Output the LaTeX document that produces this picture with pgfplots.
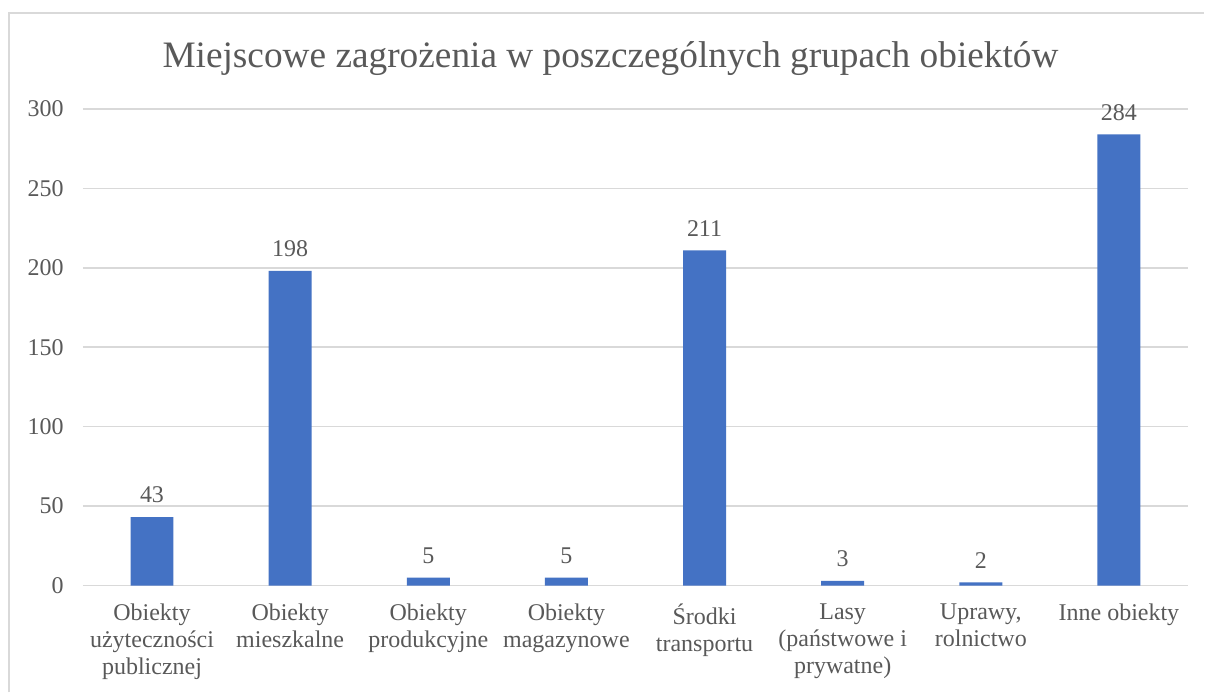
\documentclass[border=0pt]{standalone}
\usepackage{pgfplots}
\pgfplotsset{compat=1.18}
\usepackage{fontspec}
\setmainfont{Liberation Serif}
\definecolor{barblue}{HTML}{4472C4}
\definecolor{gridgray}{HTML}{D9D9D9}
\definecolor{txtgray}{HTML}{595959}
\definecolor{framegray}{HTML}{D9D9D9}
\begin{document}
\begin{tikzpicture}[x=0.75pt,y=0.75pt]
\fill[white] (0,0) rectangle (1205,693);
\draw[framegray, line width=1.5pt] (9,0) -- (9,680) -- (1205,680);
\node[txtgray, font=\fontsize{28}{32}\selectfont] at (611,693-59) {Miejscowe zagrożenia w poszczególnych grupach obiektów};
\begin{axis}[
  at={(62.25pt,80.25pt)}, anchor=south west,
  scale only axis,
  width=829.5pt, height=357.75pt,
  xmin=-0.5, xmax=7.5, ymin=0, ymax=300,
  axis line style={draw=none},
  ytick={0,50,100,150,200,250,300},
  xtick={0,1,2,3,4,5,6,7},
  xticklabels={{Obiekty\\użyteczności\\publicznej},{Obiekty\\mieszkalne},{Obiekty\\produkcyjne},{Obiekty\\magazynowe},{Środki\\transportu},{Lasy\\(państwowe i\\prywatne)},{Uprawy,\\rolnictwo},{Inne obiekty}},
  xticklabel style={align=center, font=\fontsize{18}{20.25}\selectfont, text=txtgray, anchor=north, yshift=-10pt},
  yticklabel style={font=\fontsize{18}{20}\selectfont, text=txtgray, xshift=-11pt},
  /pgf/number format/assume math mode=true,
  ymajorgrids, grid style={gridgray, line width=1.1pt},
  major tick length=0pt,
  tick style={draw=none},
]
\addplot[ybar, bar width=32.25pt, fill=barblue, draw=none,
  nodes near coords, every node near coord/.append style={font=\fontsize{18}{20}\selectfont, text=txtgray, yshift=7pt}]
  coordinates {(0,43) (1,198) (2,5) (3,5) (4,211) (5,3) (6,2) (7,284)};
\end{axis}
\end{tikzpicture}
\end{document}
